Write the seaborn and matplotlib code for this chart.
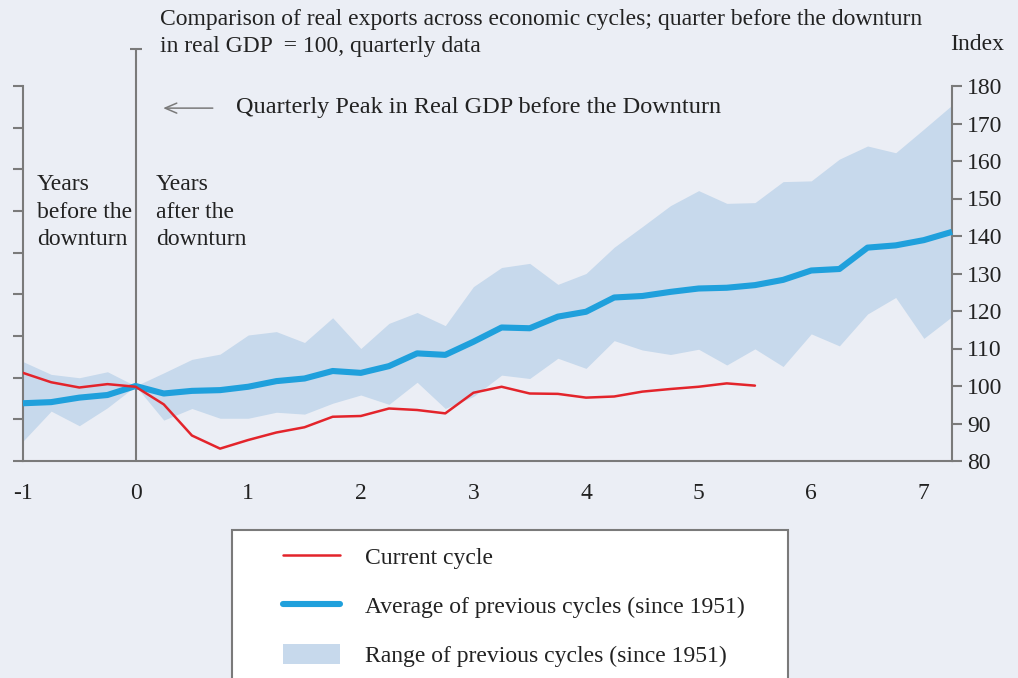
import numpy as np
import pandas as pd
import seaborn as sns
import matplotlib.pyplot as plt
from matplotlib.lines import Line2D
from matplotlib.patches import Patch, Rectangle

# quarters relative to the GDP peak (years)
quarters = np.arange(-4, 30) / 4

avg_prev = [95.4, 95.7, 96.9, 97.6, 100.0, 98.0, 98.7, 98.9, 99.8, 101.3, 102.0, 104.0,
            103.5, 105.3, 108.7, 108.3, 111.8, 115.6, 115.4, 118.5, 119.8, 123.6, 124.0, 125.1,
            126.0, 126.2, 126.9, 128.3, 130.8, 131.2, 136.9, 137.5, 138.9, 141.1]
range_hi = [106.5, 103.1, 102.2, 103.8, 100.0, 103.5, 107.1, 108.5, 113.6, 114.5, 111.6, 118.2,
            110.0, 116.7, 119.6, 116.1, 126.5, 131.6, 132.7, 127.1, 130.0, 137.0, 142.5, 148.1,
            152.1, 148.7, 148.9, 154.5, 154.7, 160.5, 164.0, 162.2, 168.5, 174.9]
range_lo = [85.3, 93.3, 89.4, 94.2, 100.0, 90.9, 94.0, 91.4, 91.4, 93.0, 92.5, 95.4,
            97.6, 95.1, 101.0, 94.0, 97.2, 102.9, 102.0, 107.4, 104.7, 112.1, 109.6, 108.4,
            109.8, 105.6, 109.9, 105.2, 113.9, 110.7, 119.2, 123.6, 112.7, 118.5]
current = [103.5, 101.0, 99.6, 100.5, 99.8, 95.1, 86.8, 83.3, 85.6, 87.6, 89.0, 91.8,
           92.0, 94.0, 93.6, 92.7, 98.2, 99.8, 98.0, 97.9, 96.9, 97.2, 98.5, 99.2,
           99.8, 100.7, 100.1]

x_ticks = [-1, 0, 1, 2, 3, 4, 5, 6, 7]
y_ticks = [80, 90, 100, 110, 120, 130, 140, 150, 160, 170, 180]

BG = "#EBEEF5"
FILL = "#C7D9EC"
BLUE = "#1FA0DC"
RED = "#E3242B"
GREY = "#7A7A7A"
TXT = "#222222"

sns.set_theme(style="white", rc={"figure.facecolor": BG, "axes.facecolor": BG})
plt.rcParams["font.family"] = ["Liberation Serif", "DejaVu Serif"]

W, H = 1018, 678
fig = plt.figure(figsize=(W / 100, H / 100), dpi=100)
ax = fig.add_axes([23 / W, 1 - 461 / H, (952 - 23) / W, (461 - 86) / H])
ax.set_facecolor("none")

df_avg = pd.DataFrame({"q": quarters, "v": avg_prev})
df_cur = pd.DataFrame({"q": quarters[:len(current)], "v": current})

ax.fill_between(quarters, range_lo, range_hi, color=FILL, lw=0, zorder=1)
sns.lineplot(data=df_avg, x="q", y="v", ax=ax, color=BLUE, lw=4.4, zorder=3,
             solid_capstyle="butt", clip_on=False)
sns.lineplot(data=df_cur, x="q", y="v", ax=ax, color=RED, lw=1.8, zorder=4)

ax.set_xlim(-1, 7.25)
ax.set_ylim(80, 180)
ax.set_xlabel("")
ax.set_ylabel("")

# peak marker line at 0
ax.axvline(0, ymin=0, ymax=(461 - 49) / 375, color=GREY, lw=1.5, clip_on=False, zorder=2)
ax.plot([0], [80 + (461 - 49) / 3.75], marker="_", ms=9, mew=1.5, color=GREY, clip_on=False)

# unlabeled left scale
axl = ax.twinx()
axl.set_ylim(0, 9)
axl.yaxis.tick_left()
axl.set_yticks(range(10))
axl.set_yticklabels([])
axl.tick_params(axis="y", length=7, width=1.5, color=GREY, direction="out")
for s in axl.spines.values():
    s.set_visible(False)
axl.grid(False)

ax.spines["top"].set_visible(False)
for s in ["left", "right", "bottom"]:
    ax.spines[s].set_color(GREY)
    ax.spines[s].set_linewidth(1.5)

ax.set_xticks(x_ticks)
ax.set_xticklabels([str(t) for t in x_ticks])
ax.yaxis.tick_right()
ax.set_yticks(y_ticks)
ax.tick_params(axis="both", which="both", length=7, width=1.5, color=GREY,
               labelsize=17, labelcolor=TXT, direction="out")
ax.tick_params(axis="x", pad=9)
ax.tick_params(axis="y", pad=4)

# annotations
ax.annotate("", xy=(0.22, 174.1), xytext=(0.71, 174.1),
            arrowprops=dict(arrowstyle="->,head_length=0.7,head_width=0.3", color=GREY, lw=1.1))
ax.text(0.89, 174.4, "Quarterly Peak in Real GDP before the Downturn", fontsize=17.5,
        color=TXT, va="center", ha="left")
ax.text(-0.875, 156.5, "Years\nbefore the\ndownturn", fontsize=17, color=TXT,
        va="top", ha="left", linespacing=1.4)
ax.text(0.18, 156.5, "Years\nafter the\ndownturn", fontsize=17, color=TXT,
        va="top", ha="left", linespacing=1.4)

fig.text(160 / W, 1 - 9 / H,
         "Comparison of real exports across economic cycles; quarter before the downturn\n"
         "in real GDP  = 100, quarterly data",
         fontsize=17, color=TXT, va="top", ha="left", linespacing=1.4)
fig.text(950 / W, 1 - 44 / H, "Index", fontsize=17, color=TXT, va="center", ha="left")

# legend box
fig.patches.append(Rectangle((232 / W, -0.05), (788 - 232) / W, 0.05 + (678 - 530) / H,
                             transform=fig.transFigure, facecolor="white",
                             edgecolor=GREY, lw=1.5, zorder=0))
handles = [Line2D([], [], color=RED, lw=1.8),
           Line2D([], [], color=BLUE, lw=4.4),
           Patch(facecolor=FILL, edgecolor="none")]
labels = ["Current cycle", "Average of previous cycles (since 1951)",
          "Range of previous cycles (since 1951)"]
fig.legend(handles, labels, loc="upper left", bbox_to_anchor=(262 / W, 1 - 525 / H),
           frameon=False, fontsize=17, handlelength=2.4, handleheight=0.9,
           handletextpad=1.05, labelspacing=1.1, labelcolor=TXT)

fig.savefig("out.png", dpi=100, facecolor=BG)
